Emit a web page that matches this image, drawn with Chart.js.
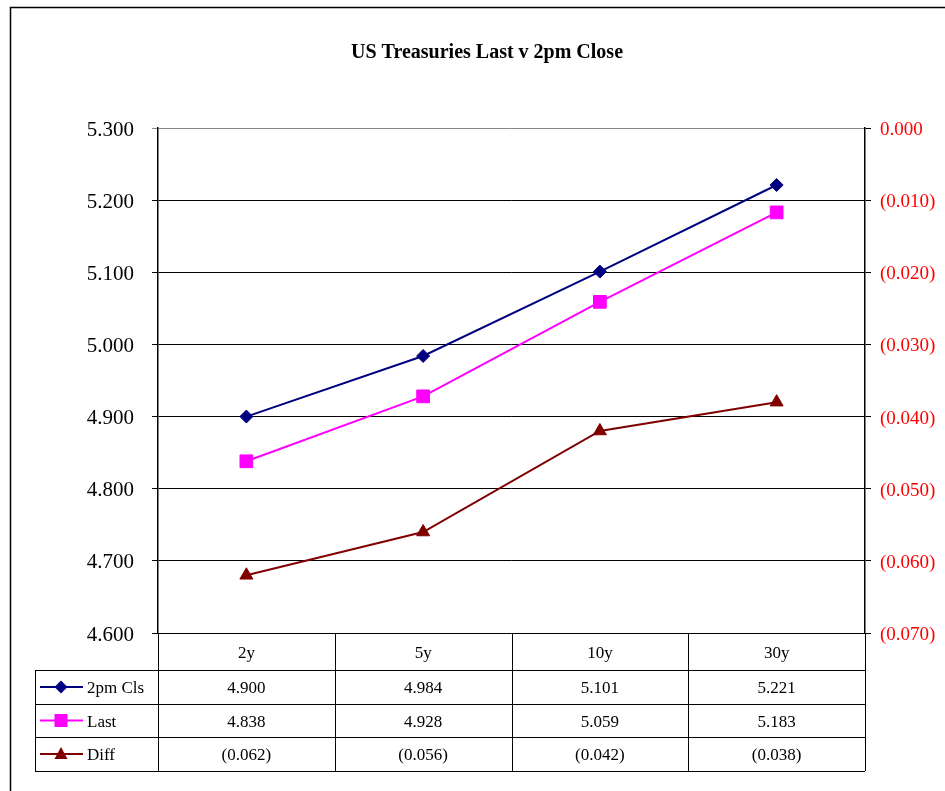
<!DOCTYPE html>
<html>
<head>
<meta charset="utf-8">
<script src="https://cdn.jsdelivr.net/npm/chart.js@4.4.1/dist/chart.umd.min.js"></script>
<style>
  html, body { margin: 0; padding: 0; background: #fff; }
  canvas { display: block; }
</style>
</head>
<body>
<canvas id="c" width="945" height="791"></canvas>
<script>
// Tenors along the curve
const tenors = ['2y', '5y', '10y', '30y'];
// Yields at the 2pm close and the latest print
const close2pm = [4.900, 4.984, 5.101, 5.221];
const lastYield = [4.838, 4.928, 5.059, 5.183];
// Change from the close (right axis)
const diffYield = [-0.062, -0.056, -0.042, -0.038];

const seriesNames = ['2pm Cls', 'Last', 'Diff'];
const seriesColors = ['#000080', '#FF00FF', '#800000'];
const seriesMarkers = ['rectRot', 'rect', 'triangle'];

const serif = '"Liberation Serif", "DejaVu Serif", serif';

function fmtYield(v) { return v.toFixed(3); }
function fmtDiff(v) {
  const s = Math.abs(v).toFixed(3);
  return v < -1e-9 ? '(' + s + ')' : s;
}

// Frame, title and the data table under the plot
const decorations = {
  id: 'decorations',
  beforeDraw(chart) {
    const ctx = chart.ctx;
    ctx.save();
    ctx.fillStyle = '#fff';
    ctx.fillRect(0, 0, chart.width, chart.height);
    ctx.strokeStyle = '#000';
    ctx.lineWidth = 1.5;
    ctx.beginPath();
    ctx.moveTo(10.5, chart.height + 5);
    ctx.lineTo(10.5, 7.5);
    ctx.lineTo(chart.width + 5, 7.5);
    ctx.stroke();

    ctx.fillStyle = '#000';
    ctx.font = 'bold 20px ' + serif;
    ctx.textAlign = 'center';
    ctx.textBaseline = 'middle';
    ctx.fillText('US Treasuries Last v 2pm Close', 487, 53);
    ctx.restore();
  },
  afterDraw(chart) {
    const ctx = chart.ctx;
    const area = chart.chartArea;
    const x = chart.scales.x;
    const half = (x.getPixelForValue(1) - x.getPixelForValue(0)) / 2;
    const tableLeft = 35;
    const rowTops = [area.bottom, area.bottom + 37, area.bottom + 71, area.bottom + 104, area.bottom + 138];

    ctx.save();
    ctx.strokeStyle = '#000';
    ctx.lineWidth = 1;

    // horizontal rules
    ctx.beginPath();
    for (let r = 1; r < rowTops.length; r++) {
      const y = Math.round(rowTops[r]) + 0.5;
      ctx.moveTo(tableLeft, y);
      ctx.lineTo(area.right, y);
    }
    // vertical rules
    ctx.moveTo(tableLeft + 0.5, rowTops[1]);
    ctx.lineTo(tableLeft + 0.5, rowTops[4]);
    for (let i = 0; i <= tenors.length; i++) {
      const cx = Math.round(x.getPixelForValue(i) - half) + 0.5;
      ctx.moveTo(cx, rowTops[0]);
      ctx.lineTo(cx, rowTops[4]);
    }
    ctx.stroke();

    ctx.fillStyle = '#000';
    ctx.textBaseline = 'middle';
    ctx.textAlign = 'center';
    ctx.font = '17px ' + serif;
    tenors.forEach((t, i) => {
      ctx.fillText(t, x.getPixelForValue(i), (rowTops[0] + rowTops[1]) / 2 + 2);
    });

    const rows = [close2pm.map(fmtYield), lastYield.map(fmtYield), diffYield.map(fmtDiff)];
    rows.forEach((vals, r) => {
      const cy = (rowTops[r + 1] + rowTops[r + 2]) / 2 + 2;
      ctx.textAlign = 'center';
      ctx.fillStyle = '#000';
      vals.forEach((v, i) => ctx.fillText(v, x.getPixelForValue(i), cy));

      // legend key
      const col = seriesColors[r];
      ctx.strokeStyle = col;
      ctx.fillStyle = col;
      ctx.lineWidth = 2;
      ctx.beginPath();
      ctx.moveTo(40, cy - 2);
      ctx.lineTo(83, cy - 2);
      ctx.stroke();
      const mx = 61, my = cy - 2;
      ctx.beginPath();
      if (r === 0) {
        ctx.moveTo(mx, my - 6.5); ctx.lineTo(mx + 6.5, my); ctx.lineTo(mx, my + 6.5); ctx.lineTo(mx - 6.5, my);
      } else if (r === 1) {
        ctx.rect(mx - 6.5, my - 6.5, 13, 13);
      } else {
        ctx.moveTo(mx, my - 7); ctx.lineTo(mx + 6.5, my + 5); ctx.lineTo(mx - 6.5, my + 5);
      }
      ctx.closePath();
      ctx.fill();

      ctx.fillStyle = '#000';
      ctx.textAlign = 'left';
      ctx.fillText(seriesNames[r], 87, cy);
    });
    ctx.restore();
  }
};

new Chart(document.getElementById('c'), {
  type: 'line',
  data: {
    labels: tenors,
    datasets: [
      { label: seriesNames[0], data: close2pm, yAxisID: 'y', borderColor: seriesColors[0], backgroundColor: seriesColors[0],
        pointStyle: seriesMarkers[0], pointRadius: 6.5, borderWidth: 2, pointBorderWidth: 1 },
      { label: seriesNames[1], data: lastYield, yAxisID: 'y', borderColor: seriesColors[1], backgroundColor: seriesColors[1],
        pointStyle: seriesMarkers[1], pointRadius: 9, borderWidth: 2, pointBorderWidth: 1 },
      { label: seriesNames[2], data: diffYield, yAxisID: 'y1', borderColor: seriesColors[2], backgroundColor: seriesColors[2],
        pointStyle: seriesMarkers[2], pointRadius: 7.5, borderWidth: 2, pointBorderWidth: 1 }
    ]
  },
  options: {
    responsive: false,
    animation: false,
    layout: { padding: { top: 128, bottom: 158, left: 0, right: 0 } },
    plugins: {
      legend: { display: false },
      title: { display: false },
      tooltip: { enabled: false }
    },
    elements: { line: { tension: 0 } },
    scales: {
      x: {
        display: false,
        offset: true,
        grid: { offset: true }
      },
      y: {
        position: 'left',
        min: 4.6, max: 5.3,
        afterFit(s) { s.width = 158; },
        ticks: {
          stepSize: 0.1,
          padding: 18,
          labelOffset: 2,
          color: '#000',
          font: { family: serif, size: 21 },
          callback: (v) => fmtYield(v)
        },
        grid: {
          color: (c) => (c.index === 7 ? '#888' : '#000'),
          lineWidth: 1,
          tickLength: 6
        },
        border: { display: true, color: '#000', width: 1.5 }
      },
      y1: {
        position: 'right',
        min: -0.07, max: 0,
        afterFit(s) { s.width = 80; },
        ticks: {
          stepSize: 0.01,
          padding: 9,
          labelOffset: 2,
          color: '#FF0000',
          font: { family: serif, size: 19 },
          callback: (v) => fmtDiff(v)
        },
        grid: { drawOnChartArea: false, color: '#000', tickLength: 6 },
        border: { display: true, color: '#000', width: 1.5 }
      }
    }
  },
  plugins: [decorations]
});
</script>
</body>
</html>
